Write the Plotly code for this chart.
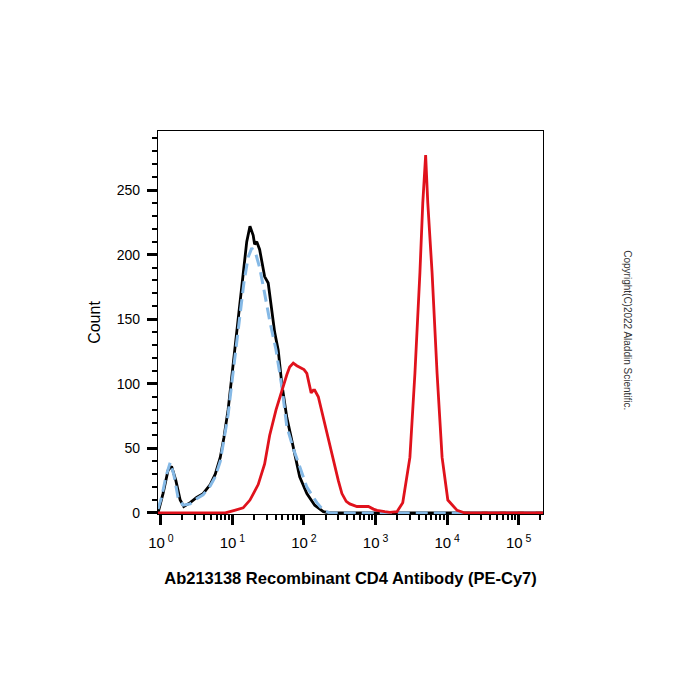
import plotly.graph_objects as go

# log10 of fluorescence intensity, and counts
black_logx = [-0.04, 0.03, 0.10, 0.15, 0.21, 0.27, 0.32, 0.41, 0.50, 0.59, 0.69, 0.76, 0.83, 0.88, 0.94,
              0.99, 1.05, 1.10, 1.16, 1.20, 1.245, 1.29, 1.31, 1.34, 1.38, 1.43, 1.45, 1.50, 1.55, 1.59,
              1.64, 1.69, 1.76, 1.85, 1.94, 2.04, 2.15, 2.27, 2.36, 5.34]
black_count = [0, 15, 33, 36, 25, 10, 5, 8, 12, 15, 22, 30, 43, 58, 80,
               105, 132, 157, 185, 210, 222, 215, 208, 210, 204, 190, 183, 178, 158, 140,
               126, 100, 74, 51, 28, 15, 6, 1, 0, 0]

blue_logx = [-0.04, 0.01, 0.07, 0.13, 0.18, 0.24, 0.31, 0.41, 0.50, 0.59, 0.69, 0.76, 0.83, 0.88, 0.94,
             0.99, 1.05, 1.10, 1.16, 1.22, 1.27, 1.33, 1.38, 1.45, 1.52, 1.61, 1.69, 1.76, 1.85, 1.94,
             2.04, 2.18, 2.27, 2.36, 5.34]
blue_count = [3, 12, 28, 39, 30, 12, 6, 7, 11, 14, 21, 28, 40, 55, 76,
              100, 126, 152, 178, 198, 205, 200, 190, 170, 149, 126, 98, 67, 50, 36,
              20, 8, 2, 0, 0]

red_logx = [-0.04, 0.90, 1.03, 1.15, 1.245, 1.36, 1.45, 1.52, 1.61, 1.69, 1.76, 1.80, 1.85, 1.90, 1.94,
            2.00, 2.04, 2.07, 2.10, 2.13, 2.15, 2.20, 2.25, 2.32, 2.41, 2.48, 2.53, 2.59, 2.64, 2.74,
            2.83, 2.90, 2.97, 3.02, 3.13, 3.20, 3.30, 3.38, 3.48, 3.55, 3.62, 3.66, 3.70, 3.73, 3.79,
            3.86, 3.93, 4.01, 4.14, 4.25, 5.34]
red_count = [0, 0, 2, 4, 10, 22, 38, 60, 80, 95, 107, 113, 116, 114, 113,
             111, 108, 100, 93, 95, 95, 90, 78, 62, 41, 25, 15, 9, 7, 5,
             5, 5, 3, 2, 1, 0.5, 1, 8, 43, 108, 186, 240, 277, 240, 186,
             108, 43, 10, 2, 0, 0]

x_tickvals = [1, 10, 100, 1000, 10000, 100000]
x_ticktext = ["10<sup> 0</sup>", "10<sup> 1</sup>", "10<sup> 2</sup>", "10<sup> 3</sup>",
              "10<sup> 4</sup>", "10<sup> 5</sup>"]
y_tickvals = [0, 50, 100, 150, 200, 250]

FONT = "Liberation Sans, Arial, sans-serif"

fig = go.Figure()
fig.add_trace(go.Scatter(x=[10 ** v for v in black_logx], y=black_count, mode="lines",
                         line=dict(color="#000000", width=2.8)))
fig.add_trace(go.Scatter(x=[10 ** v for v in blue_logx], y=blue_count, mode="lines",
                         line=dict(color="#85b9e6", width=3, dash="12px,6px")))
fig.add_trace(go.Scatter(x=[10 ** v for v in red_logx], y=red_count, mode="lines",
                         line=dict(color="#e0121c", width=2.8)))

fig.update_layout(
    width=700, height=700,
    margin=dict(l=158, r=157, t=131, b=186),
    paper_bgcolor="white", plot_bgcolor="white",
    showlegend=False,
    font=dict(family=FONT, color="black"),
)
fig.update_xaxes(
    type="log", range=[-0.04, 5.34],
    tickvals=x_tickvals, ticktext=x_ticktext,
    ticks="outside", ticklen=10, tickwidth=3, tickcolor="black",
    minor=dict(ticks="outside", ticklen=5, tickwidth=1.5, tickcolor="black", dtick="D1"),
    showline=True, linecolor="black", linewidth=1.2, mirror=True,
    showgrid=False, zeroline=False,
    tickfont=dict(size=15, family=FONT),
    ticklabelstandoff=5,
    title=dict(text="<b>Ab213138 Recombinant CD4 Antibody (PE-Cy7)</b>",
               font=dict(size=16.5, family=FONT), standoff=22),
)
fig.update_yaxes(
    range=[-0.8, 295.7],
    tickvals=y_tickvals,
    ticks="outside", ticklen=10, tickwidth=3, tickcolor="black",
    minor=dict(ticks="outside", ticklen=5, tickwidth=1.5, tickcolor="black", dtick=10),
    showline=True, linecolor="black", linewidth=1.2, mirror=True,
    showgrid=False, zeroline=False,
    tickfont=dict(size=14, family=FONT),
    ticklabelstandoff=4,
    title=dict(text="Count", font=dict(size=16, family=FONT), standoff=12),
)
fig.add_annotation(text="Copyright(C)2022 Aladdin Scientific.", xref="paper", yref="paper",
                   x=1.24, y=0.48, showarrow=False, textangle=90,
                   font=dict(size=10, family=FONT, color="#333333"))

fig.write_html("out.html")
